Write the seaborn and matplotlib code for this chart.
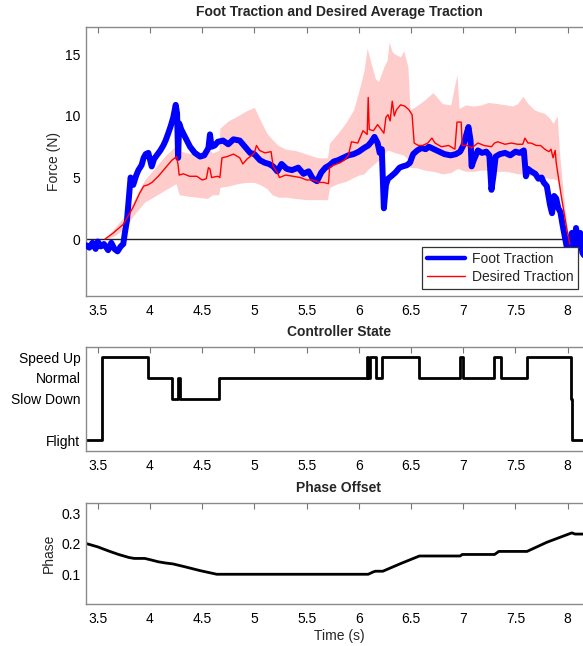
import numpy as np
import pandas as pd
import matplotlib
matplotlib.use("Agg")
import matplotlib.pyplot as plt
import seaborn as sns
from matplotlib.lines import Line2D

# ---------------- data ----------------
foot_t = [3.39, 3.42, 3.45, 3.48, 3.50, 3.53, 3.56, 3.60, 3.63, 3.66, 3.69, 3.72, 3.745, 3.76, 3.78,
          3.80, 3.815, 3.84, 3.87, 3.89, 3.92, 3.94, 3.96, 3.985, 4.00, 4.017, 4.04, 4.065, 4.10,
          4.128, 4.15, 4.176, 4.20, 4.224, 4.247, 4.26, 4.27, 4.28, 4.30, 4.336, 4.384, 4.43, 4.48,
          4.52, 4.56, 4.575, 4.59, 4.62, 4.65, 4.70, 4.75, 4.80, 4.86, 4.91, 4.96, 5.00, 5.054, 5.10,
          5.14, 5.18, 5.22, 5.26, 5.31, 5.36, 5.42, 5.47, 5.52, 5.56, 5.60, 5.64, 5.68, 5.72, 5.76,
          5.80, 5.85, 5.90, 5.95, 6.00, 6.05, 6.09, 6.12, 6.15, 6.18, 6.20, 6.22, 6.24, 6.26, 6.28,
          6.31, 6.35, 6.39, 6.42, 6.46, 6.49, 6.52, 6.56, 6.60, 6.64, 6.67, 6.72, 6.77, 6.82, 6.88,
          6.93, 6.97, 7.00, 7.03, 7.05, 7.07, 7.08, 7.10, 7.14, 7.18, 7.22, 7.25, 7.27, 7.29, 7.31,
          7.35, 7.40, 7.45, 7.50, 7.54, 7.58, 7.60, 7.62, 7.65, 7.69, 7.72, 7.75, 7.77, 7.80, 7.83,
          7.85, 7.87, 7.89, 7.91, 7.93, 7.95, 7.97, 7.99, 8.01, 8.04, 8.06, 8.08, 8.10, 8.12, 8.14, 8.17]
foot_f = [-0.5, -0.7, -0.3, -0.8, -0.2, -0.6, -0.4, -0.9, -0.3, -0.8, -1.0, -0.6, -0.4, 0.5, 1.5,
          3.5, 5.0, 4.4, 5.2, 5.6, 6.0, 6.6, 6.9, 7.0, 6.5, 5.9, 6.5, 6.8, 7.2,
          7.6, 8.0, 8.6, 9.2, 9.9, 10.9, 10.2, 6.6, 9.4, 8.9, 8.3, 7.5, 7.0, 6.7,
          6.8, 7.4, 8.5, 7.5, 7.6, 7.9, 8.0, 7.7, 8.1, 8.0, 7.5, 7.0, 6.9, 6.4, 6.2,
          6.1, 5.9, 5.5, 6.1, 5.7, 5.6, 5.8, 5.3, 5.5, 4.9, 4.7, 5.4, 5.8, 6.0, 6.3,
          6.4, 6.6, 6.8, 6.9, 7.1, 7.4, 7.6, 7.9, 8.3, 7.8, 7.0, 7.3, 2.5, 4.4, 4.9,
          5.1, 5.4, 5.8, 5.9, 6.0, 6.2, 6.9, 7.2, 7.4, 7.3, 7.5, 7.3, 7.1, 6.9, 6.8,
          6.9, 7.1, 7.6, 8.5, 9.1, 8.0, 5.9, 6.4, 7.2, 7.0, 7.1, 6.8, 4.0, 5.2, 6.7,
          6.9, 7.0, 6.8, 7.1, 7.0, 7.2, 5.1, 5.7, 5.5, 5.3, 4.9, 5.0, 4.6, 4.3, 2.8,
          2.1, 3.5, 3.3, 2.5, 2.2, 1.2, 0.3, -0.6, -0.4, 0.5, -0.8, 0.9, -0.7, 0.5, -1.1, -1.5]

desired_t = [3.57, 3.65, 3.745, 3.80, 3.84, 3.90, 3.94, 3.98, 4.02, 4.08, 4.13, 4.17, 4.21, 4.256,
             4.27, 4.28, 4.32, 4.38, 4.45, 4.50, 4.54, 4.56, 4.575, 4.59, 4.65, 4.67, 4.69, 4.74,
             4.80, 4.86, 4.89, 4.93, 4.96, 5.00, 5.02, 5.05, 5.10, 5.16, 5.18, 5.22, 5.24, 5.30,
             5.37, 5.44, 5.50, 5.56, 5.62, 5.66, 5.71, 5.72, 5.76, 5.82, 5.86, 5.90, 5.93, 5.99,
             6.04, 6.08, 6.09, 6.10, 6.14, 6.18, 6.24, 6.26, 6.28, 6.30, 6.32, 6.34, 6.36, 6.40,
             6.44, 6.48, 6.51, 6.53, 6.57, 6.61, 6.66, 6.70, 6.73, 6.79, 6.86, 6.92, 6.94, 6.98,
             6.99, 7.04, 7.08, 7.14, 7.20, 7.27, 7.30, 7.33, 7.40, 7.46, 7.52, 7.57, 7.59, 7.62,
             7.65, 7.70, 7.74, 7.78, 7.82, 7.84, 7.86, 7.88, 7.89, 7.92, 7.94, 7.97, 7.99, 8.01, 8.02]
desired_f = [0.0, 0.5, 1.2, 2.0, 2.6, 3.7, 4.3, 4.4, 4.6, 5.1, 5.6, 6.0, 6.4, 6.7,
             6.0, 5.2, 5.3, 5.1, 5.1, 4.8, 4.9, 5.8, 5.7, 5.0, 5.1, 5.0, 6.6, 6.7,
             6.9, 6.6, 6.1, 6.5, 6.7, 7.0, 7.6, 7.2, 7.0, 7.1, 5.9, 5.4, 5.0, 5.2,
             5.1, 5.0, 4.8, 4.8, 4.6, 4.6, 4.5, 5.8, 6.0, 6.2, 6.4, 6.8, 7.9, 7.8,
             8.8, 8.5, 11.5, 8.9, 8.8, 9.3, 8.6, 9.9, 10.1, 9.6, 11.2, 10.0, 10.5, 10.9,
             10.8, 10.5, 10.1, 7.8, 7.6, 7.6, 7.8, 8.2, 7.8, 7.5, 7.6, 7.3, 9.5, 9.5,
             7.6, 7.6, 7.4, 7.8, 7.6, 7.5, 7.8, 7.9, 7.7, 7.8, 7.7, 7.7, 8.2, 7.8,
             7.8, 7.6, 7.6, 7.3, 7.1, 7.3, 6.6, 7.2, 6.2, 4.5, 3.4, 1.9, 0.9, 0.0, -0.4]

band_t = [3.57, 3.65, 3.75, 3.85, 3.95, 4.05, 4.15, 4.25, 4.28, 4.35, 4.45, 4.55, 4.60, 4.66, 4.67,
          4.75, 4.84, 4.92, 5.00, 5.06, 5.12, 5.17, 5.23, 5.30, 5.39, 5.50, 5.61, 5.70, 5.72, 5.80,
          5.88, 5.95, 6.00, 6.05, 6.08, 6.12, 6.16, 6.19, 6.24, 6.27, 6.29, 6.32, 6.35, 6.40, 6.43,
          6.47, 6.49, 6.55, 6.63, 6.71, 6.80, 6.88, 6.94, 6.96, 7.02, 7.10, 7.17, 7.24, 7.33, 7.41,
          7.47, 7.52, 7.57, 7.62, 7.68, 7.74, 7.78, 7.83, 7.86, 7.90, 7.92, 7.96, 8.01]
band_hi = [0.0, 0.8, 1.8, 3.2, 4.8, 5.8, 6.8, 7.6, 7.2, 7.0, 6.9, 7.4, 7.0, 7.2, 9.0,
           9.6, 10.0, 10.4, 10.7, 9.6, 8.6, 8.1, 7.6, 7.3, 7.2, 6.9, 6.6, 6.6, 7.8, 8.6,
           9.5, 10.5, 12.0, 13.7, 15.5, 14.2, 13.0, 12.8, 14.0, 14.5, 16.0, 15.2, 15.0, 14.8, 15.3,
           14.0, 10.5, 10.8, 11.3, 11.9, 11.0, 10.9, 13.4, 10.6, 10.9, 10.8, 10.9, 11.1, 11.0, 10.9,
           10.8, 11.0, 11.6, 11.0, 10.5, 10.3, 10.2, 9.8, 9.4, 10.0, 7.2, 3.5, 0.0]
band_lo = [0.0, 0.2, 0.8, 2.0, 3.0, 3.5, 4.0, 4.5, 3.6, 3.5, 3.4, 3.3, 3.6, 3.6, 4.2,
           4.3, 4.5, 4.6, 4.6, 4.4, 4.1, 3.6, 3.4, 3.4, 3.3, 3.2, 3.2, 3.2, 4.2, 4.5,
           4.7, 5.0, 5.2, 5.3, 5.6, 5.9, 6.2, 6.4, 6.8, 7.2, 7.2, 7.1, 7.0, 6.9, 6.8,
           6.5, 5.8, 5.8, 5.6, 5.5, 5.3, 5.4, 5.7, 5.7, 5.5, 5.5, 5.6, 5.6, 5.5, 5.5,
           5.4, 5.3, 5.3, 5.2, 5.1, 5.0, 5.0, 4.9, 4.9, 4.8, 4.3, 2.0, 0.0]

state_t = [3.388, 3.543, 3.978, 4.212, 4.266, 4.29, 4.664, 6.078, 6.092, 6.105, 6.16, 6.224,
           6.579, 6.968, 7.0, 7.29, 7.363, 7.611, 8.036, 8.045, 8.22]
state_v = [0, 4, 3, 2, 3, 2, 3, 4, 3, 4, 3, 4, 3, 4, 3, 4, 3, 4, 2, 0, 0]
state_ticks = [0, 2, 3, 4]
state_labels = ["Flight", "Slow Down", "Normal", "Speed Up"]

phase_t = [3.388, 3.50, 3.60, 3.70, 3.80, 3.85, 3.95, 4.00, 4.08, 4.15, 4.22, 4.33, 4.48, 4.64,
           5.0, 5.5, 6.09, 6.14, 6.16, 6.23, 6.40, 6.58, 6.97, 6.99, 7.30, 7.34, 7.61, 7.80,
           8.04, 8.07, 8.22]
phase_v = [0.201, 0.190, 0.177, 0.165, 0.155, 0.152, 0.152, 0.148, 0.141, 0.137, 0.134, 0.125,
           0.112, 0.100, 0.100, 0.100, 0.100, 0.108, 0.110, 0.110, 0.135, 0.160, 0.160, 0.165,
           0.165, 0.175, 0.175, 0.205, 0.236, 0.232, 0.232]

x_ticks = [3.5, 4, 4.5, 5, 5.5, 6, 6.5, 7, 7.5, 8]
x_ticklabels = ["3.5", "4", "4.5", "5", "5.5", "6", "6.5", "7", "7.5", "8"]

# ---------------- style ----------------
sns.set_style("white")
plt.rcParams["font.family"] = ["Liberation Sans", "DejaVu Sans"]
plt.rcParams["font.size"] = 10

W, H = 583, 646
fig = plt.figure(figsize=(W / 100, H / 100), dpi=100)

left = 86 / W
width = (592 - 86) / W
xlim = (3.388, 8.0 + (592 - 567.7) / 104.44)


def make_ax(top_px, bot_px):
    return fig.add_axes([left, (H - bot_px) / H, width, (bot_px - top_px) / H])


ax1 = make_ax(27.3, 295.7)
ax2 = make_ax(346.7, 450.7)
ax3 = make_ax(502.7, 603.5)

for ax in (ax1, ax2, ax3):
    ax.set_xlim(*xlim)
    ax.set_xticks(x_ticks)
    ax.set_xticklabels(x_ticklabels)
    ax.tick_params(axis="both", direction="in", length=4, width=0.8, color="#777777",
                   labelsize=10, labelcolor="black", top=True, right=True, pad=4)
    ax.tick_params(axis="x", pad=6)
    for s in ax.spines.values():
        s.set_color("#8a8a8a")
        s.set_linewidth(1.0)
    ax.set_facecolor("white")

# ---- top panel ----
ax1.fill_between(band_t, band_lo, band_hi, color="#ffcccc", linewidth=0, zorder=1)
ax1.axhline(0, color="#222222", lw=1.0, zorder=2)
sns.lineplot(x=foot_t, y=foot_f, ax=ax1, color="#0000ff", lw=4.3, sort=False,
             estimator=None, zorder=3)
sns.lineplot(x=desired_t, y=desired_f, ax=ax1, color="#ff0000", lw=1.0, sort=False,
             estimator=None, zorder=4)
ax1.set_ylim(-4.6, 17.2)
ax1.set_yticks([0, 5, 10, 15])
ax1.set_ylabel("Force (N)", fontsize=10, labelpad=3)
ax1.set_title("Foot Traction and Desired Average Traction", fontsize=10, fontweight="bold", pad=8)
handles = [Line2D([], [], color="#0000ff", lw=3.2), Line2D([], [], color="#ff0000", lw=1.0)]
leg = ax1.legend(handles, ["Foot Traction", "Desired Traction"], loc="lower right",
                 bbox_to_anchor=(578 / W, (H - 289) / H), bbox_transform=fig.transFigure,
                 fancybox=False, framealpha=1, edgecolor="#333333", fontsize=10,
                 handlelength=2.7, borderpad=0.35, labelspacing=0.3, handletextpad=0.5,
                 borderaxespad=0)
leg.get_frame().set_linewidth(0.9)

# ---- middle panel ----
sns.lineplot(x=state_t, y=state_v, ax=ax2, color="black", lw=2.0, sort=False,
             estimator=None, drawstyle="steps-post")
ax2.set_ylim(-0.5, 4.5)
ax2.set_yticks(state_ticks)
ax2.set_yticklabels(state_labels)
ax2.set_ylabel("")
ax2.set_title("Controller State", fontsize=10, fontweight="bold", pad=8)

# ---- bottom panel ----
sns.lineplot(x=phase_t, y=phase_v, ax=ax3, color="black", lw=2.0, sort=False, estimator=None)
ax3.set_ylim(0.004, 0.335)
ax3.set_yticks([0.1, 0.2, 0.3])
ax3.set_yticklabels(["0.1", "0.2", "0.3"])
ax3.set_ylabel("Phase", fontsize=10, labelpad=4)
ax3.set_xlabel("Time (s)", fontsize=10, labelpad=2)
ax3.set_title("Phase Offset", fontsize=10, fontweight="bold", pad=8)

fig.savefig("out.png", dpi=100)
